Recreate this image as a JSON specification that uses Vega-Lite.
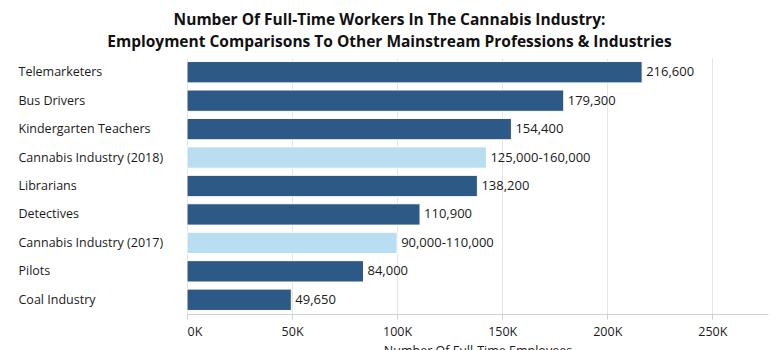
{
  "$schema": "https://vega.github.io/schema/vega-lite/v6.json",
  "autosize": {"type": "none"},
  "width": 581,
  "height": 256,
  "padding": {"left": 187, "top": 58, "right": 10, "bottom": 36},
  "background": "white",
  "title": {
    "text": ["Number Of Full-Time Workers In The Cannabis Industry:", "Employment Comparisons To Other Mainstream Professions & Industries"],
    "font": "Open Sans",
    "fontSize": 15.5,
    "fontWeight": "bold",
    "color": "#111111",
    "anchor": "middle",
    "dx": -88,
    "offset": 8,
    "lineHeight": 22
  },
  "data": {
    "values": [
      {"category": "Telemarketers", "value": 216600, "label": "216,600", "type": "other"},
      {"category": "Bus Drivers", "value": 179300, "label": "179,300", "type": "other"},
      {"category": "Kindergarten Teachers", "value": 154400, "label": "154,400", "type": "other"},
      {"category": "Cannabis Industry (2018)", "value": 142500, "label": "125,000-160,000", "type": "cannabis"},
      {"category": "Librarians", "value": 138200, "label": "138,200", "type": "other"},
      {"category": "Detectives", "value": 110900, "label": "110,900", "type": "other"},
      {"category": "Cannabis Industry (2017)", "value": 100000, "label": "90,000-110,000", "type": "cannabis"},
      {"category": "Pilots", "value": 84000, "label": "84,000", "type": "other"},
      {"category": "Coal Industry", "value": 49650, "label": "49,650", "type": "other"}
    ]
  },
  "encoding": {
    "y": {
      "field": "category",
      "type": "nominal",
      "sort": null,
      "scale": {"paddingInner": 0.25, "paddingOuter": 0.125},
      "axis": {
        "title": null,
        "domain": false,
        "ticks": false,
        "grid": false,
        "labelAlign": "left",
        "labelPadding": 169,
        "labelFont": "Open Sans",
        "labelFontSize": 12.5,
        "labelColor": "#1a1a1a"
      }
    },
    "x": {
      "field": "value",
      "type": "quantitative",
      "scale": {"domain": [0, 276500], "nice": false},
      "axis": {
        "values": [0, 50000, 100000, 150000, 200000, 250000],
        "labelExpr": "datum.value / 1000 + 'K'",
        "title": "Number Of Full-Time Employees",
        "titleFont": "Open Sans",
        "titleFontSize": 12.5,
        "titleFontWeight": "normal",
        "titleColor": "#1a1a1a",
        "titlePadding": 7,
        "labelFont": "Open Sans",
        "labelFontSize": 12.5,
        "labelColor": "#1a1a1a",
        "labelPadding": 6,
        "grid": true,
        "gridColor": "#e4e4e4",
        "domainColor": "#d0d0d0",
        "tickColor": "#d0d0d0",
        "tickSize": 5
      }
    }
  },
  "layer": [
    {
      "mark": {"type": "bar", "stroke": "white", "strokeWidth": 1},
      "encoding": {
        "color": {
          "field": "type",
          "type": "nominal",
          "scale": {"domain": ["other", "cannabis"], "range": ["#2c5985", "#b9def1"]},
          "legend": null
        }
      }
    },
    {
      "mark": {"type": "text", "align": "left", "baseline": "middle", "dx": 4, "font": "Open Sans", "fontSize": 13, "color": "#1a1a1a"},
      "encoding": {"text": {"field": "label"}}
    }
  ],
  "config": {"view": {"stroke": null}}
}
